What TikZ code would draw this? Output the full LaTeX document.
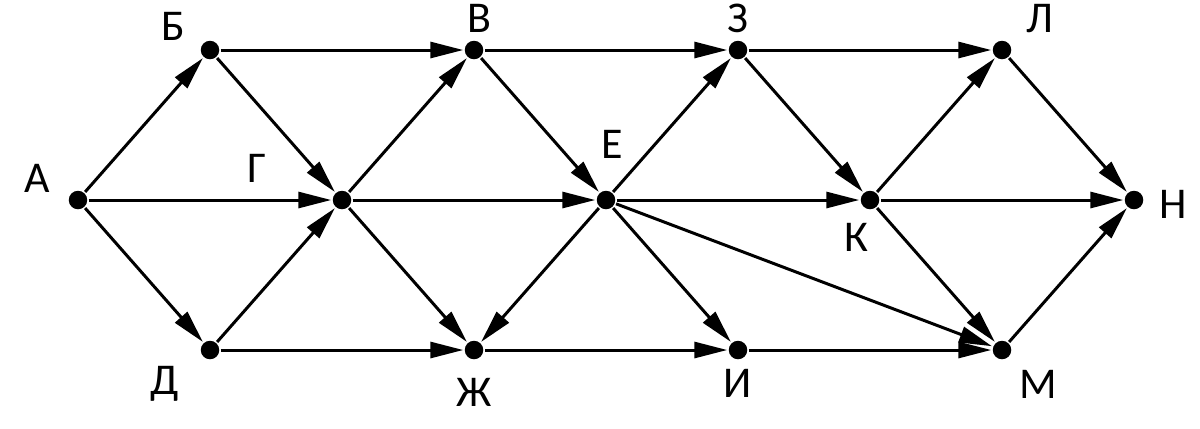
\documentclass[tikz,border=0pt]{standalone}
\usepackage{fontspec}
\setmainfont{Carlito}
\usetikzlibrary{arrows.meta, positioning}

\begin{document}
\begin{tikzpicture}[node distance=3cm and 2.64cm,on grid,
    dot/.style={circle,fill,inner sep=0pt,minimum size=0.37cm},
    lbl/.style={font=\fontsize{25}{30}\selectfont,inner sep=0pt},
    line width=1.7pt,>={Triangle[length=0.66cm,width=0.32cm]}]
    \useasboundingbox (-1.56,-4.56) rectangle (22.44,4);

      \node[dot] (a)                     {};
      \node[dot] (b)  [above right=of a] {};
      \node[dot] (d)  [below right=of a] {};
      \node[dot] (g)  [below right=of b] {};
      \node[dot] (v)  [above right=of g] {};
      \node[dot] (zh) [below right=of g] {};
      \node[dot] (e)  [below right=of v] {};
      \node[dot] (z)  [above right=of e] {};
      \node[dot] (i)  [below right=of e] {};
      \node[dot] (k)  [below right=of z] {};
      \node[dot] (l)  [above right=of k] {};
      \node[dot] (m)  [below right=of k] {};
      \node[dot] (n)  [below right=of l] {};

      % labels
      \node[lbl] (la)  [above left=0.44cm and 0.82cm of a]  {А};
      \node[lbl] (lb)  [above left=0.48cm and 0.74cm of b]  {Б};
      \node[lbl] (lv)  [above right=0.64cm and 0.1cm of v]  {В};
      \node[lbl] (lg)  [above left=0.64cm and 1.7cm of g]   {Г};
      \node[lbl] (ld)  [below left=0.68cm and 0.9cm of d]   {Д};
      \node[lbl] (lzh) [below=0.84cm of zh]                 {Ж};
      \node[lbl] (le)  [above right=1.12cm and 0.12cm of e] {Е};
      \node[lbl] (lz)  [above=0.64cm of z]                  {З};
      \node[lbl] (li)  [below=0.66cm of i]                  {И};
      \node[lbl] (lk)  [below left=0.74cm and 0.28cm of k]  {К};
      \node[lbl] (ll)  [above right=0.62cm and 0.76cm of l] {Л};
      \node[lbl] (lm)  [below right=0.68cm and 0.72cm of m] {М};
      \node[lbl] (ln)  [below right=0.08cm and 0.78cm of n] {Н};

      \path[->] (a)  edge (b) edge (g) edge (d)
                (b)  edge (v) edge (g)
                (d)  edge (g) edge (zh)
                (g)  edge (v) edge (e) edge (zh)
                (v)  edge (z) edge (e)
                (e)  edge (z) edge (k) edge (zh) edge (i) edge (m)
                (zh) edge (i)
                (z)  edge (l) edge (k)
                (i)  edge (m)
                (k)  edge (l) edge (n) edge (m)
                (l)  edge (n)
                (m)  edge (n);
    \end{tikzpicture}
\end{document}
